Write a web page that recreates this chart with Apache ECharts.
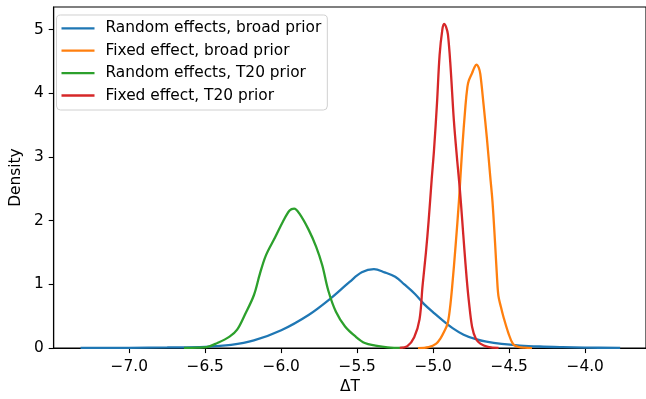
<!DOCTYPE html>
<html>
<head>
<meta charset="utf-8">
<script src="https://cdn.jsdelivr.net/npm/echarts@6/dist/echarts.min.js"></script>
<style>
  html, body { margin: 0; padding: 0; background: #ffffff; }
  #chart { width: 646px; height: 399px; }
</style>
</head>
<body>
<div id="chart"></div>
<script>
// Posterior densities of ΔT under four model / prior combinations.
const seriesNames = [
  'Random effects, broad prior',
  'Fixed effect, broad prior',
  'Random effects, T20 prior',
  'Fixed effect, T20 prior'
];

const reBroadX = [-7.32, -7.0, -6.75, -6.5, -6.33, -6.18, -6.0, -5.82, -5.68, -5.55, -5.47, -5.39, -5.32, -5.25, -5.19, -5.12, -5.06, -4.99, -4.93, -4.87, -4.80, -4.72, -4.65, -4.55, -4.43, -4.30, -4.15, -4.0, -3.77];
const reBroadY = [0.002, 0.005, 0.01, 0.02, 0.05, 0.12, 0.28, 0.52, 0.77, 1.04, 1.19, 1.24, 1.19, 1.12, 1.0, 0.85, 0.69, 0.54, 0.42, 0.31, 0.21, 0.14, 0.10, 0.065, 0.04, 0.025, 0.015, 0.008, 0.002];

const feBroadX = [-5.10, -5.03, -4.98, -4.95, -4.93, -4.906, -4.89, -4.874, -4.853, -4.831, -4.81, -4.788, -4.775, -4.766, -4.744, -4.73, -4.716, -4.70, -4.69, -4.669, -4.647, -4.625, -4.61, -4.593, -4.58, -4.571, -4.555, -4.539, -4.506, -4.474, -4.44, -4.40, -4.35];
const feBroadY = [0.001, 0.015, 0.07, 0.16, 0.25, 0.38, 0.62, 1.0, 1.6, 2.3, 3.1, 3.8, 4.1, 4.2, 4.32, 4.4, 4.45, 4.4, 4.3, 3.83, 3.3, 2.7, 2.3, 1.65, 1.1, 0.82, 0.65, 0.5, 0.24, 0.06, 0.02, 0.006, 0.001];

const reT20X = [-6.64, -6.55, -6.49, -6.42, -6.34, -6.29, -6.24, -6.18, -6.14, -6.10, -6.04, -5.99, -5.945, -5.915, -5.88, -5.82, -5.77, -5.73, -5.69, -5.64, -5.58, -5.51, -5.45, -5.38, -5.30, -5.20];
const reT20Y = [0.002, 0.006, 0.015, 0.08, 0.18, 0.29, 0.52, 0.83, 1.17, 1.46, 1.74, 1.98, 2.16, 2.19, 2.11, 1.86, 1.59, 1.30, 0.90, 0.57, 0.34, 0.18, 0.08, 0.04, 0.012, 0.002];

const feT20X = [-5.22, -5.17, -5.125, -5.09, -5.07, -5.048, -5.03, -5.01, -4.995, -4.975, -4.958, -4.94, -4.929, -4.915, -4.903, -4.886, -4.864, -4.842, -4.825, -4.809, -4.795, -4.78, -4.766, -4.744, -4.72, -4.69, -4.64, -4.57];
const feT20Y = [0.002, 0.03, 0.17, 0.45, 0.98, 1.5, 2.0, 2.65, 3.1, 3.85, 4.6, 5.0, 5.09, 5.04, 4.92, 4.42, 3.57, 2.94, 2.5, 2.0, 1.55, 1.1, 0.75, 0.33, 0.15, 0.07, 0.02, 0.002];

const xTicks = [-7.0, -6.5, -6.0, -5.5, -5.0, -4.5, -4.0];
const yTicks = [0, 1, 2, 3, 4, 5];

const colors = ['#1f77b4', '#ff7f0e', '#2ca02c', '#d62728'];
const FONT = 'DejaVu Sans';

function pairs(xs, ys) {
  return xs.map((x, i) => [x, ys[i]]);
}

const curves = [
  pairs(reBroadX, reBroadY),
  pairs(feBroadX, feBroadY),
  pairs(reT20X, reT20Y),
  pairs(feT20X, feT20Y)
];

const chart = echarts.init(document.getElementById('chart'), null, { renderer: 'canvas' });

chart.setOption({
  animation: false,
  backgroundColor: '#ffffff',
  textStyle: { fontFamily: FONT },
  grid: {
    left: 48, top: 7, right: -2, bottom: 49,
    show: true, borderColor: '#000000', borderWidth: 1.1, backgroundColor: 'transparent'
  },
  legend: {
    orient: 'vertical',
    left: 56.5, top: 15,
    backgroundColor: '#ffffff',
    borderColor: '#d0d0d0', borderWidth: 1, borderRadius: 4,
    padding: [4.3, 6, 5.5, 5],
    icon: 'rect',
    itemWidth: 33, itemHeight: 2.3, itemGap: 4.4,
    textStyle: { fontFamily: FONT, fontSize: 15.4, color: '#000000', lineHeight: 18, padding: [0, 0, 0, 6] },
    data: seriesNames
  },
  xAxis: {
    type: 'value',
    min: -7.497, max: -3.60,
    name: 'ΔT',
    nameLocation: 'middle',
    nameGap: 27,
    nameTextStyle: { fontFamily: FONT, fontSize: 15.4, color: '#000000' },
    axisLine: { show: true, lineStyle: { color: '#000000', width: 1.1 } },
    axisTick: { show: true, length: 5, customValues: xTicks, lineStyle: { color: '#000000', width: 1.1 } },
    axisLabel: {
      customValues: xTicks, margin: 11,
      fontFamily: FONT, fontSize: 15.4, color: '#000000',
      formatter: v => v.toFixed(1).replace('-', '\u2212')
    },
    splitLine: { show: false }
  },
  yAxis: {
    type: 'value',
    min: 0, max: 5.355,
    name: 'Density',
    nameLocation: 'middle',
    nameGap: 28,
    nameRotate: 90,
    nameTextStyle: { fontFamily: FONT, fontSize: 15.4, color: '#000000' },
    axisLine: { show: true, lineStyle: { color: '#000000', width: 1.1 } },
    axisTick: { show: true, length: 5, customValues: yTicks, lineStyle: { color: '#000000', width: 1.1 } },
    axisLabel: {
      customValues: yTicks, margin: 10,
      fontFamily: FONT, fontSize: 15.4, color: '#000000',
      formatter: v => String(v)
    },
    splitLine: { show: false }
  },
  series: seriesNames.map((name, i) => ({
    name: name,
    type: 'line',
    data: curves[i],
    symbol: 'none',
    showSymbol: false,
    smooth: 0.35,
    color: colors[i],
    itemStyle: { color: colors[i] },
    lineStyle: { color: colors[i], width: 2.3 },
    z: 2 + i
  }))
});
</script>
</body>
</html>
